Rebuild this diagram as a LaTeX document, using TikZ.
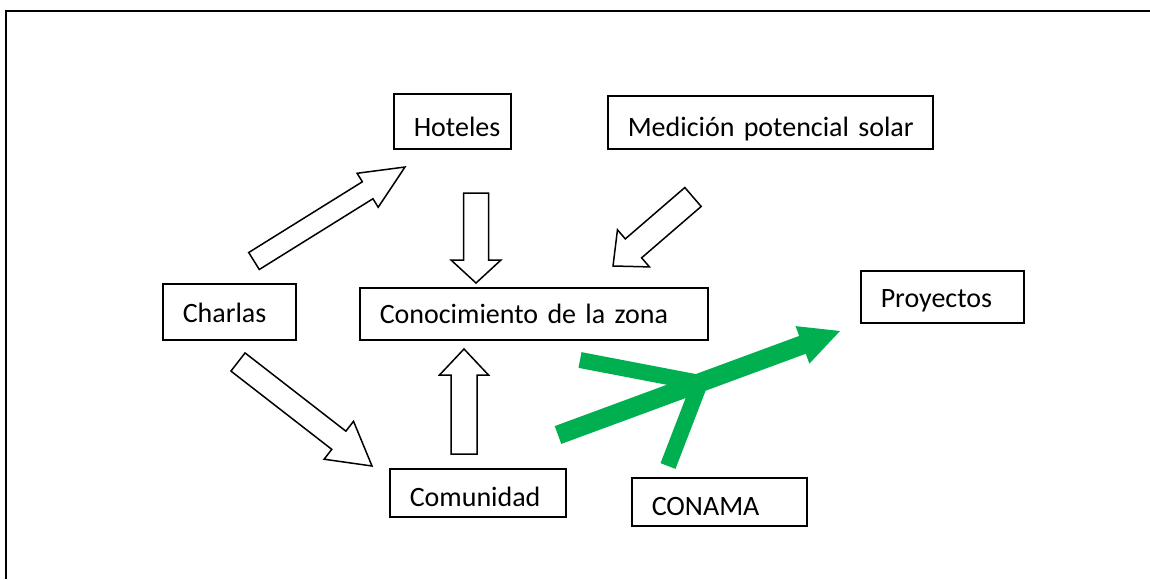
\documentclass[tikz,border=0pt]{standalone}
\usepackage{fontspec}
\setmainfont{Carlito}
\definecolor{verdeword}{RGB}{0,176,80}
\tikzset{
  caja/.style={draw, line width=1.5pt, align=left, inner xsep=20pt, inner ysep=0pt,
    anchor=north west, font=\fontsize{28}{34}\selectfont},
  hueca/.style={draw, line width=1.5pt, fill=white},
  verde/.style={fill=verdeword},
  rama/.style={draw=verdeword, line width=16pt},
}
\newcommand{\flecha}[6][hueca]{%
  \path let \p1=(#2), \p2=(#3) in \pgfextra{%
    \pgfmathsetmacro\angf{atan2(\y2-\y1,\x2-\x1)}%
    \pgfmathsetmacro\lonf{veclen(\x2-\x1,\y2-\y1)}%
    \global\let\angfl\angf \global\let\lonfl\lonf};
  \path[#1, shift={(#2)}, rotate=\angfl] (0,#4) -- (\lonfl-#6,#4) -- (\lonfl-#6,#5)
    -- (\lonfl,0) -- (\lonfl-#6,-#5) -- (\lonfl-#6,-#4) -- (0,-#4) -- cycle;
}
\usetikzlibrary{calc}
\begin{document}
\begin{tikzpicture}[x=1pt, y=-1pt]
  \useasboundingbox (0,0) rectangle (1150,579);
  \draw [line width=2pt] (6,579)--(6,11)--(1150,11);
  \node[caja, text width=77pt, text height=43pt, text depth=12pt] (hoteles) at (393,93) {\mbox{Hoteles}};
  \node[caja, text width=285pt, text height=41pt, text depth=12pt] (medicion) at (607,95) {\mbox{Medición potencial solar}};
  \node[caja, text width=93pt, text height=39pt, text depth=17pt] (charlas) at (162,283) {Charlas};
  \node[caja, text width=308pt, text height=36pt, text depth=16pt] (zona) at (359,287) {Conocimiento de la zona};
  \node[caja, text width=123pt, text height=37pt, text depth=15pt] (proyectos) at (860,270) {Proyectos};
  \node[caja, text width=136pt, text height=38pt, text depth=10pt] (comunidad) at (389,468) {Comunidad};
  \node[caja, text width=135pt, text height=38pt, text depth=10pt] (conama) at (631,477) {CONAMA};
  \coordinate (a1) at (254,261);
  \coordinate (a2) at (405,167);
  \coordinate (b1) at (238,362);
  \coordinate (b2) at (372,466);
  \coordinate (c1) at (476,193);
  \coordinate (c2) at (476,283);
  \coordinate (d1) at (693,197);
  \coordinate (d2) at (613,266);
  \coordinate (e1) at (464,454);
  \coordinate (e2) at (464,349);
  \flecha{a1}{a2}{10}{20}{44}
  \flecha{b1}{b2}{11.5}{24}{42}
  \flecha{c1}{c2}{12.5}{25}{23}
  \flecha{d1}{d2}{12.5}{24.5}{27}
  \flecha{e1}{e2}{13}{24.5}{26}
  \coordinate (g1) at (558,435);
  \coordinate (g2) at (840,331);
  \coordinate (union) at (700,383);
  \coordinate (g3) at (580,360);
  \coordinate (g4) at (668,466);
  \draw [rama] (g3)--(union);
  \draw [rama] (g4)--(union);
  \flecha[verde]{g1}{g2}{9.5}{20}{40}
\end{tikzpicture}
\end{document}
